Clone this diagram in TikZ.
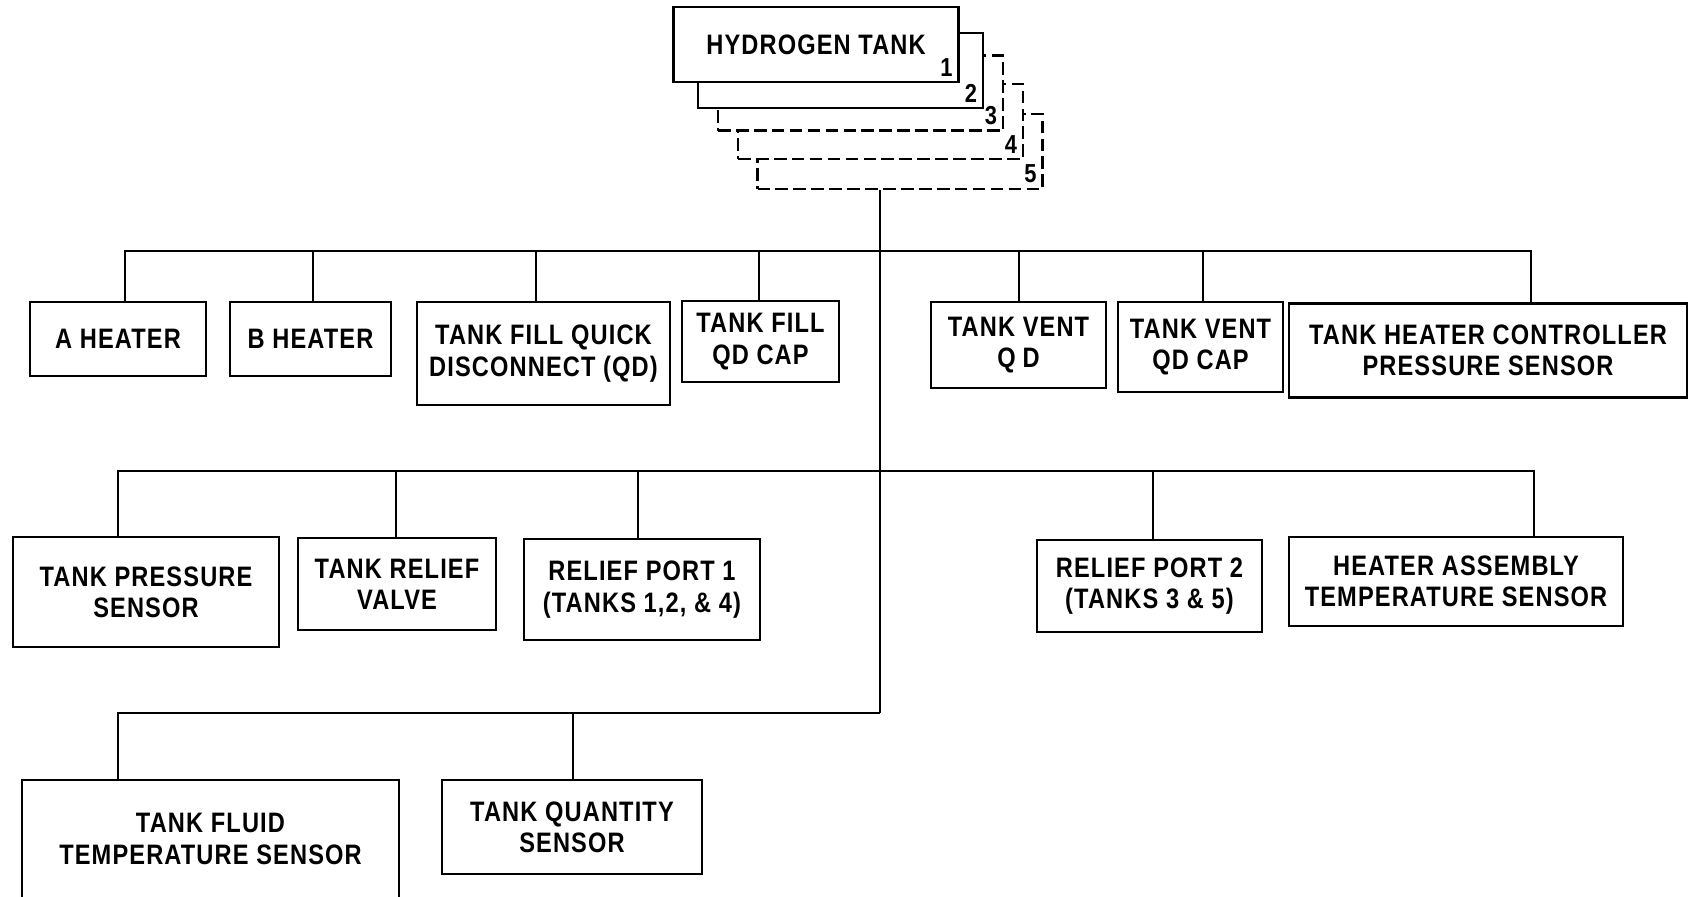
\documentclass[tikz,border=0pt]{standalone}
\usepackage{fontspec}
\usepackage{tikz}
\newfontfamily\chartfont{Liberation Sans}[FakeStretch=0.84,LetterSpace=4]

\begin{document}
\begin{tikzpicture}[
    x=0.01cm, y=-0.01cm,
    part/.style 2 args={draw, line width=0.6pt, fill=white, inner sep=0pt, align=center,
        minimum width=#1*0.01cm, minimum height=#2*0.01cm,
        font=\chartfont\bfseries\fontsize{8}{8.9}\selectfont},
    tank/.style={part={285}{75}},
    ghost/.style={tank, dash pattern=on 3.6pt off 1.5pt},
    num/.style={anchor=south east, inner sep=1.8pt, font=\chartfont\bfseries\fontsize{7.4}{7.4}\selectfont},
    wire/.style={line width=0.6pt},
]
\useasboundingbox (0,0) rectangle (1689,896);
\clip (0,0) rectangle (1689,896);

% stacked tanks
\node[ghost] (tank5) at (900,151.5) {};
\node[ghost] (tank4) at (880.5,121.5) {};
\node[ghost] (tank3) at (860.5,93) {};
\node[tank] (tank2) at (840.5,70.5) {};
\node[tank] (tank1) at (816,44.5) {HYDROGEN TANK};
\node[num] (tag1) at (tank1.south east) {1};
\node[num] (tag2) at (tank2.south east) {2};
\node[num] (tag3) at (tank3.south east) {3};
\node[num] (tag4) at (tank4.south east) {4};
\node[num] (tag5) at (tank5.south east) {5};

\coordinate (hub1) at (880,251);
\coordinate (hub2) at (880,471);
\coordinate (hub3) at (880,713);

\node[part={176}{74}] (ahtr) at (118,339) {A HEATER};
\node[part={161}{74}] (bhtr) at (310.5,339) {B HEATER};
\node[part={253}{103}] (fillqd) at (543.5,353.5) {TANK FILL QUICK\\DISCONNECT (QD)};
\node[part={157}{81}] (fillcap) at (760.5,341.5) {TANK FILL\\QD CAP};
\node[part={175}{86}] (ventqd) at (1018.5,345) {TANK VENT\\Q\hspace{2pt}D};
\node[part={165}{90}] (ventcap) at (1200.5,347) {TANK VENT\\QD CAP};
\node[part={398}{94}] (ctlsens) at (1488,350.5) {TANK HEATER CONTROLLER\\PRESSURE SENSOR};

\node[part={266}{110}] (psens) at (146,592) {TANK PRESSURE\\SENSOR};
\node[part={198}{92}] (rvalve) at (397,584) {TANK RELIEF\\VALVE};
\node[part={236}{101}] (port1) at (642,589.5) {RELIEF PORT 1\\(TANKS 1,2, \& 4)};
\node[part={225}{92}] (port2) at (1149.5,586) {RELIEF PORT 2\\(TANKS 3 \& 5)};
\node[part={334}{89}] (hassy) at (1456,581.5) {HEATER ASSEMBLY\\TEMPERATURE SENSOR};

\node[part={377}{118}] (fluid) at (210.5,839) {TANK FLUID\\TEMPERATURE SENSOR};
\node[part={260}{94}] (qty) at (572,827) {TANK QUANTITY\\SENSOR};

\draw[wire] (tank5.south -| hub1) -- (hub3);
\foreach \n/\x in {ahtr/125, bhtr/313, fillqd/536, fillcap/759, ventqd/1019, ventcap/1203, ctlsens/1531}
    \draw[wire] (\n.north -| \x,0) |- (hub1);
\foreach \n/\x in {psens/118, rvalve/396, port1/638, port2/1153, hassy/1534}
    \draw[wire] (\n.north -| \x,0) |- (hub2);
\foreach \n/\x in {fluid/118, qty/573}
    \draw[wire] (\n.north -| \x,0) |- (hub3);
\end{tikzpicture}
\end{document}
